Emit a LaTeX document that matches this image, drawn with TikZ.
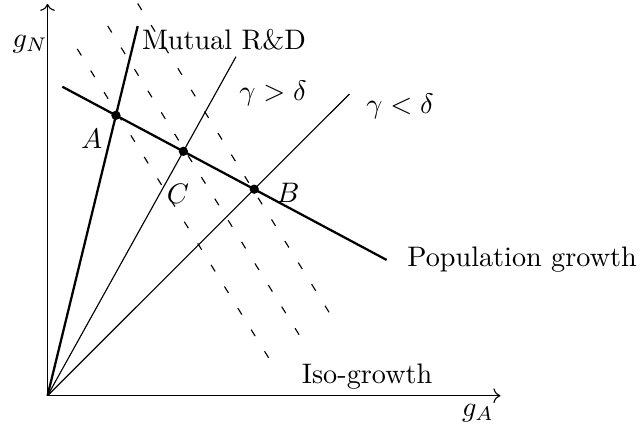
\documentclass[tikz,border=0pt]{standalone}
\usepackage{tikz}
\usetikzlibrary{arrows.meta,positioning,calc}
\usepackage{amsmath}

\begin{document}
\begin{tikzpicture}[
  axis/.style={->},
  curve/.style={thick},
  ray/.style={thin},
  iso/.style={dash pattern=on 2.7pt off 6.3pt},
  dot/.style={circle,fill=black,inner sep=0pt,minimum size=3.3pt},
]
\useasboundingbox (-0.592,-0.502) rectangle (7.391,4.928);
\coordinate (O) at (0,0);
\coordinate (xend) at (5.64,0);
\coordinate (yend) at (0,4.88);
\coordinate (rd) at (1.123,4.604);
\coordinate (gt) at (2.347,4.222);
\coordinate (lt) at (3.76,3.757);
\coordinate (pop1) at (0.184,3.848);
\coordinate (pop2) at (4.224,1.690);
\coordinate (iso1a) at (0.371,4.318);
\coordinate (iso1b) at (2.77,0.445);
\coordinate (iso2a) at (0.75,4.604);
\coordinate (iso2b) at (3.153,0.727);
\coordinate (iso3a) at (1.123,4.884);
\coordinate (iso3b) at (3.527,1.005);
% axes
\draw[axis] (O) -- (xend);
\draw[axis] (O) -- (yend);
\node (gA) at (5.36,-0.215) {$g_A$};
\node (gN) at (-0.218,4.38) {$g_N$};
% iso-growth lines
\draw[iso] (iso1a) -- (iso1b);
\draw[iso] (iso2a) -- (iso2b);
\draw[iso] (iso3a) -- (iso3b);
% rays from origin
\draw[curve] (O) -- (rd);
\draw[ray] (O) -- (gt);
\draw[ray] (O) -- (lt);
\draw[curve] (pop1) -- (pop2);
% equilibria
\node[dot] (A) at (intersection of O--rd and pop1--pop2) {};
\node[dot] (C) at (intersection of O--gt and pop1--pop2) {};
\node[dot] (B) at (intersection of O--lt and pop1--pop2) {};
\node[below left=0pt of A] (labA) {$A$};
\node (labC) at (1.625,2.51) {$C$};
\node (labB) at (2.995,2.524) {$B$};
% labels
\node (rdlab) at (2.198,4.43) {Mutual R\&D};
\node (gtlab) at (2.808,3.77) {$\gamma > \delta$};
\node (ltlab) at (4.39,3.608) {$\gamma < \delta$};
\node (poplab) at (5.91,1.69) {Population growth};
\node (isolab) at (3.98,0.233) {Iso-growth};
\end{tikzpicture}
\end{document}
